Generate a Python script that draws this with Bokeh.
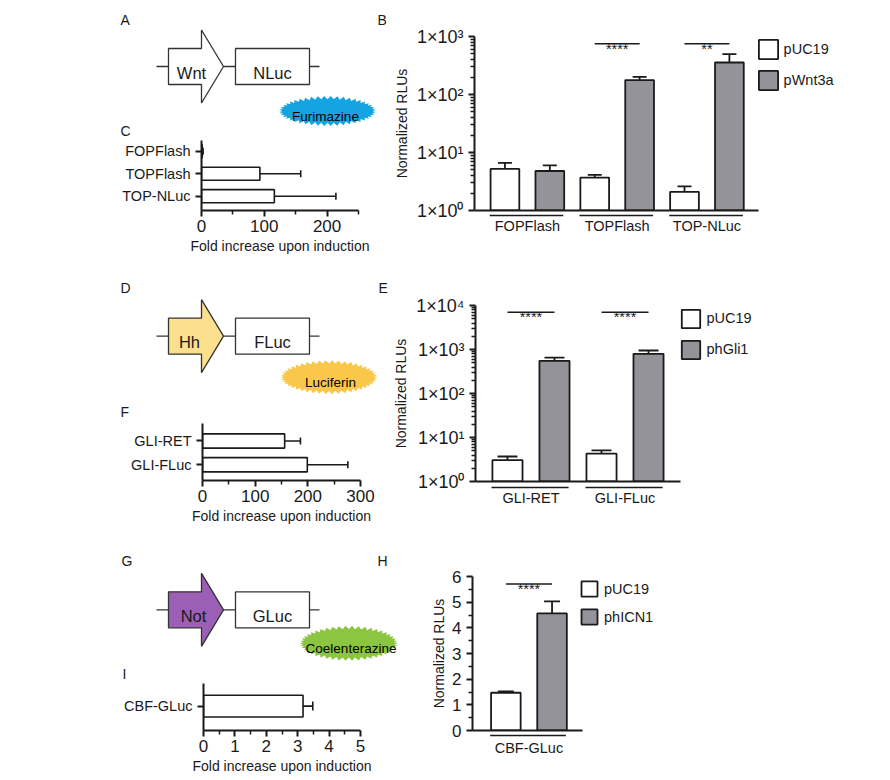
import numpy as np
from bokeh.plotting import figure
from bokeh.models import (Range1d, ColumnDataSource, Whisker, TeeHead, Legend,
                          LegendItem, FixedTicker, CustomJSTickFormatter)
from bokeh.transform import dodge
from bokeh.layouts import row, column
from bokeh.embed import file_html
from bokeh.resources import INLINE
from bokeh.core.properties import value

FONT = "Liberation Sans"
INK = "#1a1a1a"
GRAY = "#939399"

# ---------------- data ----------------
# Panel B (Wnt, log scale)
b_cats = ["FOPFlash", "TOPFlash", "TOP-NLuc"]
b_puc19 = [5.2, 3.7, 2.1]
b_puc19_err = [6.6, 4.1, 2.6]
b_wnt3a = [4.8, 177, 356]
b_wnt3a_err = [6.0, 202, 495]
b_sig_cats = ["TOPFlash", "TOP-NLuc"]
b_sig_text = ["****", "**"]

# Panel C (fold increase)
c_cats = ["FOPFlash", "TOPFlash", "TOP-NLuc"]
c_fold = [1.2, 93, 116]
c_fold_err = [2.5, 158, 214]

# Panel E (Hh, log scale)
e_cats = ["GLI-RET", "GLI-FLuc"]
e_puc19 = [3.07, 4.3]
e_puc19_err = [3.7, 5.1]
e_hgli1 = [553, 798]
e_hgli1_err = [657, 949]
e_sig_cats = ["GLI-RET", "GLI-FLuc"]
e_sig_text = ["****", "****"]

# Panel F (fold increase)
f_cats = ["GLI-RET", "GLI-FLuc"]
f_fold = [156, 199]
f_fold_err = [186, 276]

# Panel H (Notch, linear)
h_cats = ["CBF-GLuc"]
h_puc19 = [1.47]
h_puc19_err = [1.52]
h_hicn1 = [4.56]
h_hicn1_err = [5.03]
h_sig_cats = ["CBF-GLuc"]
h_sig_text = ["****"]

# Panel I (fold increase)
i_cats = ["CBF-GLuc"]
i_fold = [3.17]
i_fold_err = [3.48]

# tick definitions
b_major = [1, 10, 100, 1000]
e_major = [1, 10, 100, 1000, 10000]
h_major = [0, 1, 2, 3, 4, 5, 6]
c_major = [0, 100, 200]
f_major = [0, 100, 200, 300]
i_major = [0, 1, 2, 3, 4, 5]


def log_minors(majors):
    return [m * t for t in majors[:-1] for m in range(2, 10)]


def mids(majors):
    return [(a + b) / 2 for a, b in zip(majors[:-1], majors[1:])]


def style_axis(ax):
    ax.axis_line_color = INK
    ax.axis_line_width = 2
    ax.major_tick_line_color = INK
    ax.major_tick_line_width = 2
    ax.minor_tick_line_color = INK
    ax.minor_tick_line_width = 1.5
    ax.major_tick_out = 6
    ax.major_tick_in = 0
    ax.minor_tick_out = 4
    ax.minor_tick_in = 0
    ax.major_label_text_font = FONT
    ax.major_label_text_color = INK
    ax.axis_label_text_font = FONT
    ax.axis_label_text_font_style = "normal"
    ax.axis_label_text_color = INK


def new_fig(**kw):
    p = figure(output_backend="svg", toolbar_location=None, **kw)
    p.outline_line_color = None
    p.grid.visible = False
    p.frame_align = False
    return p


# ---------------- diagrams ----------------
LINE_X0, RECT_X0, RECT_X1, TIP_X = 156, 168, 201, 223
BOX_X0, BOX_X1, LINE_X1 = 235, 309, 319
RECT_HALF, HEAD_HALF = 18, 36.5


def starburst(cx, cy, rx, ry, n=46, spike=3.2):
    t = np.linspace(0, 2 * np.pi, 2 * n, endpoint=False)
    k = np.arange(2 * n) % 2
    ax = np.where(k == 0, rx, rx - spike)
    ay = np.where(k == 0, ry, ry - spike)
    return list(cx + ax * np.cos(t)), list(cy + ay * np.sin(t))


def diagram(w, h, top, cy, prom, prom_x, prom_fill, rep, sub, sub_geom, sub_color, sub_text_xy, letters):
    p = new_fig(width=w, height=h, x_range=Range1d(0, w), y_range=Range1d(top + h, top),
                x_axis_location=None, y_axis_location=None, min_border=0)
    for xa, xb in [(LINE_X0, RECT_X0), (TIP_X, BOX_X0), (BOX_X1, LINE_X1)]:
        p.line([xa, xb], [cy, cy], line_color="#333333", line_width=1.3)
    ax = [RECT_X0, RECT_X1, RECT_X1, TIP_X, RECT_X1, RECT_X1, RECT_X0]
    ay = [cy - RECT_HALF, cy - RECT_HALF, cy - HEAD_HALF, cy, cy + HEAD_HALF, cy + RECT_HALF, cy + RECT_HALF]
    p.patch(ax, ay, fill_color=prom_fill, line_color="#333333", line_width=1.3)
    p.quad(left=[BOX_X0], right=[BOX_X1], top=[cy - RECT_HALF], bottom=[cy + RECT_HALF],
           fill_color="white", line_color="#333333", line_width=1.3)
    p.text(x=[prom_x, (BOX_X0 + BOX_X1) / 2], y=[cy + 6, cy + 6], text=[prom, rep],
           text_font=value(FONT), text_font_size="16.5px", text_align="center",
           text_baseline="alphabetic", text_color=INK)
    sx, sy = starburst(*sub_geom)
    p.patch(sx, sy, fill_color=sub_color, line_color=None)
    p.text(x=[sub_text_xy[0]], y=[sub_text_xy[1]], text=[sub], text_font=value(FONT),
           text_font_size="13.5px", text_align="center", text_baseline="alphabetic", text_color="black")
    p.text(x=[l[1] for l in letters], y=[l[2] for l in letters], text=[l[0] for l in letters],
           text_font=value(FONT), text_font_size="14px", text_align="left",
           text_baseline="alphabetic", text_color=INK)
    return p


diagA = diagram(390, 138, 0, 66, "Wnt", 191, "white", "NLuc", "Furimazine",
                (327, 110.5, 48.5, 15), "#14a3e3", (325, 115.5),
                [("A", 120, 19), ("B", 377, 19), ("C", 120, 130)])
diagD = diagram(390, 148, 270, 335.7, "Hh", 189, "#fde08e", "FLuc", "Luciferin",
                (328.5, 376.7, 48.5, 17), "#f9c84b", (330, 382),
                [("D", 120, 287), ("E", 378, 287), ("F", 120, 411)])
diagG = diagram(408, 142, 540, 609.3, "Not", 193, "#9b5fb5", "GLuc", "Coelenterazine",
                (348.3, 642.8, 49, 17.5), "#8cc540", (350.5, 647.5),
                [("G", 121, 560), ("H", 377, 560), ("I", 122, 673)])


# ---------------- horizontal fold charts ----------------
def fold_chart(w, h, mbl, mbr, mbt, mbb, cats, fold, err, xmax, majors, minors, yr, bar_h, cap):
    ypos = list(range(len(cats)))[::-1]
    p = new_fig(width=w, height=h, x_range=Range1d(0, xmax), y_range=Range1d(*yr),
                min_border_left=mbl, min_border_right=mbr, min_border_top=mbt, min_border_bottom=mbb)
    src = ColumnDataSource(dict(y=ypos, fold=fold, err=err))
    p.add_layout(Whisker(source=src, base="y", lower="fold", upper="err", dimension="width",
                         lower_head=None, upper_head=TeeHead(size=cap, line_color=INK, line_width=1.6),
                         line_color=INK, line_width=1.6))
    p.hbar(y="y", left=0, right="fold", height=bar_h, source=src,
           fill_color="white", line_color=INK, line_width=1.6)
    style_axis(p.xaxis[0])
    style_axis(p.yaxis[0])
    p.xaxis.ticker = FixedTicker(ticks=majors, minor_ticks=minors)
    p.xaxis.major_label_text_font_size = "17px"
    p.xaxis.major_label_standoff = 3
    p.xaxis.axis_label = "Fold increase upon induction"
    p.xaxis.axis_label_text_font_size = "14px"
    p.xaxis.axis_label_standoff = 3
    p.yaxis.ticker = FixedTicker(ticks=ypos)
    p.yaxis.major_label_overrides = {yv: c for yv, c in zip(ypos, cats)}
    p.yaxis.major_label_text_font_size = "14.5px"
    p.yaxis.major_label_standoff = 5
    return p


figC = fold_chart(390, 132, 201, 32, 2, 60, c_cats, c_fold, c_fold_err, 250,
                  c_major, mids(c_major) + [250], (-0.636, 2.476), 0.58, 7)
figF = fold_chart(390, 122, 202, 30, 5, 60, f_cats, f_fold, f_fold_err, 300,
                  f_major, mids(f_major), (-0.665, 1.737), 0.6, 7)
figI = fold_chart(408, 94, 203, 48, 1, 46, i_cats, i_fold, i_fold_err, 5,
                  i_major, mids(i_major), (-0.647, 0.60), 0.58, 9)


# ---------------- vertical RLU charts ----------------
def rlu_chart(w, h, mbl, mbt, mbb, cats, xr, axis_end, log, yr, majors, minors,
              white, white_err, gray, gray_err, gray_label, sig_cats, sig_text, sig_y,
              underline_y, cap, glyph, spacing, standoff, legend_xy, tick_size,
              ylab_standoff, xlab_standoff):
    kw = dict(y_axis_type="log") if log else {}
    p = new_fig(width=w, height=h, x_range=Range1d(*xr), y_range=Range1d(*yr),
                min_border_left=mbl, min_border_right=2, min_border_top=mbt, min_border_bottom=mbb, **kw)
    base = yr[0]
    idx = list(range(len(cats)))
    src = ColumnDataSource(dict(x=idx, white=white, white_err=white_err, gray=gray, gray_err=gray_err))
    for off, top, up in [(-0.25, "white", "white_err"), (0.25, "gray", "gray_err")]:
        p.add_layout(Whisker(source=src, base=dodge("x", off), lower=top, upper=up,
                             dimension="height", lower_head=None,
                             upper_head=TeeHead(size=cap, line_color=INK, line_width=1.8),
                             line_color=INK, line_width=1.8))
    rw = p.vbar(x=dodge("x", -0.25), top="white", bottom=base, width=0.32,
                source=src, fill_color="white", line_color=INK, line_width=1.8)
    rg = p.vbar(x=dodge("x", 0.25), top="gray", bottom=base, width=0.32,
                source=src, fill_color=GRAY, line_color=INK, line_width=1.8)
    # group underlines below the axis
    p.segment(x0=dodge("x", -0.42), x1=dodge("x", 0.40), y0=underline_y, y1=underline_y,
              source=src, line_color=INK, line_width=1.5, level="overlay")
    # significance bars
    sidx = [cats.index(c) for c in sig_cats]
    ssrc = ColumnDataSource(dict(x=sidx, txt=sig_text))
    p.segment(x0=dodge("x", -0.25), x1=dodge("x", 0.25), y0=sig_y, y1=sig_y,
              source=ssrc, line_color=INK, line_width=1.5)
    p.text(x="x", y=sig_y, text="txt", source=ssrc, text_font=value(FONT), text_font_size="14.5px",
           text_align="center", text_baseline="alphabetic", y_offset=5, text_color=INK)

    style_axis(p.xaxis[0])
    style_axis(p.yaxis[0])
    p.xaxis.bounds = (xr[0], axis_end)
    p.xaxis.ticker = FixedTicker(ticks=idx)
    p.xaxis.major_label_overrides = {i: c for i, c in zip(idx, cats)}
    p.xaxis.major_tick_out = 0
    p.xaxis.major_tick_line_color = None
    p.xaxis.minor_tick_line_color = None
    p.xaxis.major_label_text_font_size = "14.5px"
    p.xaxis.major_label_standoff = xlab_standoff
    p.yaxis.ticker = FixedTicker(ticks=majors, minor_ticks=minors)
    if log:
        p.yaxis.formatter = CustomJSTickFormatter(code="""
            const sup = ["\u2070", "\u00b9", "\u00b2", "\u00b3", "\u2074", "\u2075"];
            const e = Math.round(Math.log10(tick));
            return "1\u00d710" + sup[e];
        """)
    p.yaxis.major_label_text_font_size = tick_size
    p.yaxis.major_label_standoff = 5
    p.yaxis.axis_label = "Normalized RLUs"
    p.yaxis.axis_label_text_font_size = "14px"
    p.yaxis.axis_label_standoff = ylab_standoff

    legend = Legend(items=[LegendItem(label="pUC19", renderers=[rw]),
                           LegendItem(label=gray_label, renderers=[rg])],
                    location=legend_xy, orientation="vertical")
    legend.margin = 0
    legend.padding = 2
    legend.border_line_color = None
    legend.background_fill_alpha = 0
    legend.glyph_width = int(round(glyph[0]))
    legend.glyph_height = int(round(glyph[1]))
    legend.label_height = int(round(glyph[1]))
    legend.label_standoff = int(round(standoff))
    legend.spacing = int(round(spacing))
    legend.label_text_font = FONT
    legend.label_text_font_size = "14.5px"
    legend.label_text_color = INK
    p.add_layout(legend)
    return p


figB = rlu_chart(492, 270, 83, 36, 60, b_cats, (-0.589, 3.933), 2.578, True, (1, 1000), b_major,
                 log_minors(b_major), b_puc19, b_puc19_err, b_wnt3a, b_wnt3a_err, "pWnt3a",
                 b_sig_cats, b_sig_text, 750, 0.82, 14, (24, 24), 7, 4, (281.6, 118), "18px", 4, 7)
figE = rlu_chart(492, 270, 83, 35, 59, e_cats, (-0.59, 3.717), 1.589, True, (1, 10000), e_major,
                 log_minors(e_major), e_puc19, e_puc19_err, e_hgli1, e_hgli1_err, "phGli1",
                 e_sig_cats, e_sig_text, 7000, 0.73, 20, (23, 23), 8, 5, (203.5, 120.5), "18px", 4, 8)
figH = rlu_chart(474, 236, 64, 36, 46, h_cats, (-0.611, 3.805), 0.579, False, (0, 6), h_major,
                 mids(h_major), h_puc19, h_puc19_err, h_hicn1, h_hicn1_err, "phICN1",
                 h_sig_cats, h_sig_text, 5.71, -0.195, 16, (20, 19), 9, 5, (107, 104), "17px", 2, 9)

layout = column(
    row(column(diagA, figC), figB),
    row(column(diagD, figF), figE),
    row(column(diagG, figI), figH),
)

open("out.html", "w").write(file_html(layout, INLINE))
